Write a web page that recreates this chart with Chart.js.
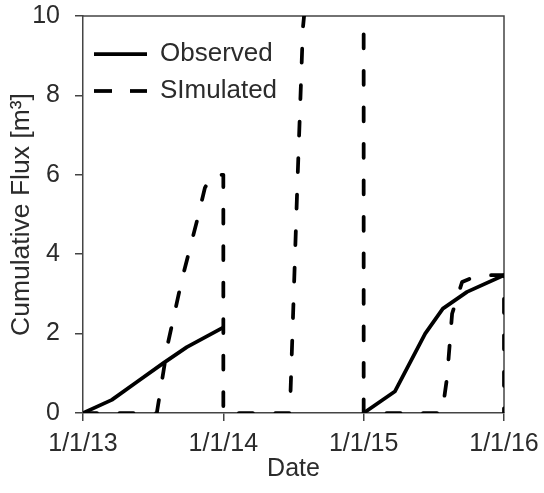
<!DOCTYPE html>
<html><head><meta charset="utf-8">
<script src="https://cdn.jsdelivr.net/npm/chart.js@4.4.0/dist/chart.umd.min.js"></script>
<style>html,body{margin:0;padding:0;background:#fff;} canvas{display:block;}</style>
</head><body>
<canvas id="c" width="544" height="493"></canvas>
<script>
// ---- data ----
const tickDays   = [0, 365, 730, 1095];          // days since 1/1/13
const tickLabels = ['1/1/13', '1/1/14', '1/1/15', '1/1/16'];
const seriesNames = ['Observed', 'SImulated'];

const obsDays   = [0, 75, 140, 208, 270, 364, 547, 730, 811, 890, 936, 999, 1095];
const obsValues = [0, 0.33, 0.78, 1.25, 1.66, 2.15, null, 0, 0.54, 2.0, 2.63, 3.05, 3.47];

const simDays   = [0, 192, 221, 257, 297, 317, 336, 365, 365, 538, 557, 572, 600, 730, 730, 934, 947, 960, 986, 1027, 1095, 1095];
const simValues = [0, 0, 1.76, 3.35, 4.86, 5.67, 6.0, 6.0, 0, 0, 5.6, 9.7, 12.5, 15, 0, 0, 0.9, 2.5, 3.3, 3.47, 3.47, 0];

const yTitle = 'Cumulative Flux [m\u00B3]';
const xTitle = 'Date';

// ---- chart ----
const FONT = 'Liberation Sans, Arial, sans-serif';
const AXIS = '#444444';
const TEXT = '#2b2b2b';

const toPts = (xs, ys) => xs.map((x, i) => ({x: x, y: ys[i]}));

const frame = {
  id: 'frame',
  beforeDatasetsDraw(chart) {
    const {ctx, chartArea: a} = chart;
    ctx.save();
    ctx.strokeStyle = AXIS;
    ctx.lineWidth = 1.5;
    ctx.beginPath();
    ctx.moveTo(a.left, a.top);
    ctx.lineTo(a.right, a.top);
    ctx.lineTo(a.right, a.bottom);
    ctx.stroke();
    ctx.restore();
  }
};

new Chart(document.getElementById('c'), {
  type: 'line',
  data: {
    datasets: [
      {
        label: seriesNames[0],
        data: toPts(obsDays, obsValues),
        borderColor: '#000',
        backgroundColor: '#000',
        borderWidth: 3.75,
        pointRadius: 0,
        tension: 0,
        spanGaps: false,
        borderCapStyle: 'round',
        borderJoinStyle: 'round'
      },
      {
        label: seriesNames[1],
        data: toPts(simDays, simValues),
        borderColor: '#000',
        backgroundColor: '#000',
        borderWidth: 3.75,
        borderDash: [14, 22.5],
        borderCapStyle: 'round',
        borderJoinStyle: 'round',
        pointRadius: 0,
        tension: 0
      }
    ]
  },
  options: {
    responsive: false,
    animation: false,
    devicePixelRatio: 1,
    layout: {padding: {top: 16, right: 40, bottom: 0, left: 0}},
    scales: {
      x: {
        type: 'linear',
        min: 0, max: 1095,
        afterBuildTicks(s) { s.ticks = tickDays.map(v => ({value: v})); },
        afterFit(s) { s.height = 80; s.paddingLeft = 0; s.paddingRight = 0; },
        ticks: {
          callback: (v, i) => tickLabels[i],
          font: {family: FONT, size: 25},
          color: TEXT,
          padding: 8,
          maxRotation: 0,
          autoSkip: false
        },
        grid: {display: true, drawOnChartArea: false, tickLength: 8, color: AXIS, lineWidth: 1.5},
        border: {display: true, color: AXIS, width: 1.5},
        title: {display: true, text: xTitle, font: {family: FONT, size: 25}, color: TEXT, padding: {top: 0, bottom: 9}}
      },
      y: {
        min: 0, max: 10,
        afterFit(s) { s.width = 83; s.paddingTop = 0; s.paddingBottom = 0; },
        ticks: {
          stepSize: 2,
          font: {family: FONT, size: 25},
          color: TEXT,
          padding: 15
        },
        grid: {display: true, drawOnChartArea: false, tickLength: 8, color: AXIS, lineWidth: 1.5},
        border: {display: true, color: AXIS, width: 1.5},
        title: {display: true, text: yTitle, font: {family: FONT, size: 26.5}, color: TEXT, padding: {top: 6, bottom: 0}}
      }
    },
    plugins: {
      tooltip: {enabled: false},
      legend: {
        position: 'chartArea',
        align: 'start',
        title: {display: true, text: ' ', padding: {top: 10, bottom: 10}, font: {size: 10, lineHeight: 1}},
        labels: {
          usePointStyle: true,
          pointStyle: 'line',
          pointStyleWidth: 53,
          padding: 11,
          color: TEXT,
          font: {family: FONT, size: 26},
          generateLabels(chart) {
            const items = Chart.defaults.plugins.legend.labels.generateLabels(chart);
            items.forEach(it => {
              const ds = chart.data.datasets[it.datasetIndex];
              it.lineDash = ds.borderDash ? [18, 18] : [];
              it.lineCap = 'butt';
              it.lineWidth = ds.borderWidth;
              it.strokeStyle = ds.borderColor;
            });
            return items;
          }
        }
      }
    }
  },
  plugins: [frame]
});
</script>
</body></html>
